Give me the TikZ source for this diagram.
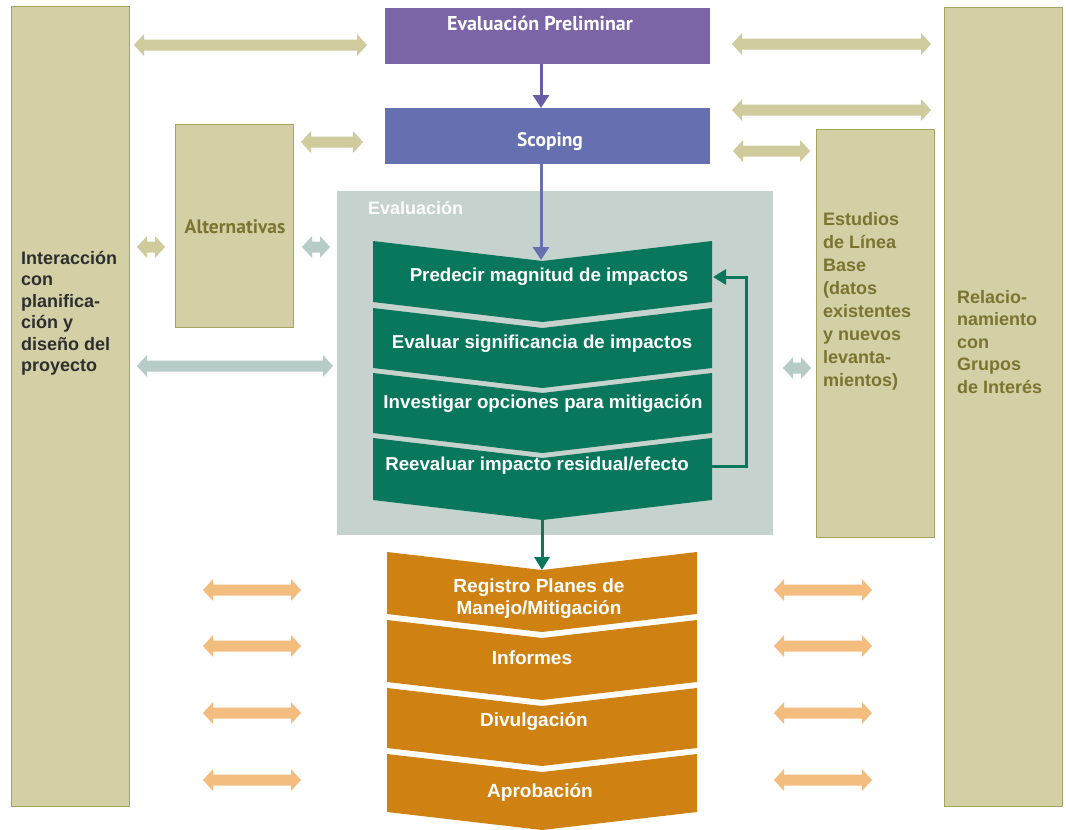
\documentclass[tikz,border=0pt]{standalone}
\usepackage{fontspec}
\setmainfont{Liberation Sans}
\newfontfamily\hum{PT Sans}
\usetikzlibrary{arrows.meta,calc}
\definecolor{tanF}{HTML}{D4D0A6}
\definecolor{tanB}{HTML}{A6A262}
\definecolor{tanA}{HTML}{CFCB9C}
\definecolor{olive}{HTML}{7A7430}
\definecolor{grayF}{HTML}{C6D2CE}
\definecolor{grayA}{HTML}{B7CCC7}
\definecolor{prelimC}{HTML}{7B65A6}
\definecolor{scopC}{HTML}{6670B1}
\definecolor{parC}{HTML}{6A5DA8}
\definecolor{grn}{HTML}{08775C}
\definecolor{orn}{HTML}{CF8211}
\definecolor{ornA}{HTML}{F3BD80}
\definecolor{darkT}{HTML}{2E2E2E}
\newcommand\dblarr[3]{\fill[#1] (#2) -- ($(#2)+(10,-11)$) -- ($(#2)+(10,-5.5)$) -- ($(#3)+(-10,-5.5)$) -- ($(#3)+(-10,-11)$) -- (#3) -- ($(#3)+(-10,11)$) -- ($(#3)+(-10,5.5)$) -- ($(#2)+(10,5.5)$) -- ($(#2)+(10,11)$) -- cycle;}
\begin{document}
\begin{tikzpicture}[x=1pt,y=-1pt,
  tanbox/.style={draw=tanB, line width=1pt, fill=tanF, inner sep=0, outer sep=0},
  flatbox/.style={inner sep=0, outer sep=0},
  coltext/.style={inner sep=0, anchor=north west, align=left, font=\bfseries\fontsize{18}{21.5}\selectfont},
  gtext/.style={inner sep=0, text=white, font=\bfseries\fontsize{18.7}{22}\selectfont},
  otext/.style={inner sep=0, text=white, align=center, font=\bfseries\fontsize{19}{22}\selectfont},
  parr/.style={draw=parC, line width=3pt, -{Triangle[width=16pt,length=13pt]}},
  barr/.style={draw=scopC, line width=3pt, -{Triangle[width=16pt,length=13pt]}},
  garr/.style={draw=grn, line width=3pt, -{Triangle[width=15pt,length=13pt]}}
]
\useasboundingbox (0,0) rectangle (1066,830);
\fill[white] (0,0) rectangle (1066,830);

% main boxes
\node[tanbox, minimum width=118, minimum height=800] (leftcol) at (70,406) {};
\node[tanbox, minimum width=118, minimum height=799] (relac) at (1003,406.5) {};
\node[tanbox, minimum width=118, minimum height=203] (alt) at (234,225.5) {};
\node[tanbox, minimum width=118, minimum height=408] (estudios) at (875,333) {};
\node[flatbox, fill=prelimC, minimum width=325, minimum height=56] (prelim) at (547.5,36) {};
\node[flatbox, fill=scopC, minimum width=325, minimum height=56] (scoping) at (547.5,136) {};
\node[flatbox, fill=grayF, minimum width=436, minimum height=344] (evalbox) at (555,363) {};

% texts of boxes
\node[inner sep=0, text=white, font=\hum\bfseries\fontsize{20}{23}\selectfont] (prelimt) at (540,23) {Evaluación Preliminar};
\node[inner sep=0, text=white, font=\hum\bfseries\fontsize{19.5}{22}\selectfont] (scopingt) at (550,142) {Scoping};
\node[inner sep=0, text=olive, font=\hum\bfseries\fontsize{19.5}{22}\selectfont] (altt) at (235,227) {Alternativas};
\node[inner sep=0, anchor=west, text=white!95!grayF, font=\bfseries\fontsize{18}{21}\selectfont] (evalt) at (368,208) {Evaluación};
\node[coltext, text=darkT] (leftt) at (21,251) {Interacción\\con\\planifica-\\ción y\\diseño del\\proyecto};
\node[coltext, text=olive, font=\bfseries\fontsize{18}{23}\selectfont] (estt) at (823,212) {Estudios\\de Línea\\Base\\(datos\\existentes\\y nuevos\\levanta-\\mientos)};
\node[coltext, text=olive, font=\bfseries\fontsize{18}{22.5}\selectfont] (relt) at (957,290) {Relacio-\\namiento\\con\\Grupos\\de Interés};

% green chevron stack
\foreach \t/\b in {241/302, 308/368, 373/433, 438/500}{
  \fill[grn] (373,\t) -- (542.5,\t+20) -- (712,\t) -- (712,\b) -- (542.5,\b+20) -- (373,\b) -- cycle;
}
\node[gtext] (g1) at (549,277) {Predecir magnitud de impactos};
\node[gtext] (g2) at (542,344) {Evaluar significancia de impactos};
\node[gtext] (g3) at (543,404) {Investigar opciones para mitigación};
\node[gtext] (g4) at (537,466) {Reevaluar impacto residual/efecto};

% orange chevron stack
\foreach \t/\b in {552/614, 620/682, 688/748, 754/812}{
  \fill[orn] (387,\t) -- (542,\t+18) -- (697,\t) -- (697,\b) -- (542,\b+18) -- (387,\b) -- cycle;
}
\node[otext] (o1) at (539,599) {Registro Planes de\\Manejo/Mitigación};
\node[otext] (o2) at (532,658) {Informes};
\node[otext] (o3) at (534,722) {Divulgación};
\node[otext] (o4) at (540,792) {Aprobación};

% connector coordinates
\coordinate (ax) at (541,0);
\coordinate (gtop) at (541,260);
\coordinate (gbot) at (542,520);
\coordinate (otop) at (542,570);
\coordinate (g1e) at (713,277);
\coordinate (g4e) at (712,466);
\coordinate (fb) at (746,0);

\draw[parr] (prelim.south -| ax) -- (scoping.north -| ax);
\draw[barr] (scoping.south -| ax) -- (gtop);
\draw[garr] (gbot) -- (otop);
\draw[garr] (g4e) -- (g4e -| fb) -- (g1e -| fb) -- (g1e);

% double arrow end points
\coordinate (a1l) at (134,45);  \coordinate (a1r) at (367,45);
\coordinate (a2l) at (732,44);  \coordinate (a2r) at (931,44);
\coordinate (a3l) at (732,110); \coordinate (a3r) at (931,110);
\coordinate (a4l) at (301,142); \coordinate (a4r) at (363,142);
\coordinate (a5l) at (733,151); \coordinate (a5r) at (810,151);
\coordinate (a6l) at (137,247); \coordinate (a6r) at (165,247);
\coordinate (a7l) at (302,247); \coordinate (a7r) at (330,247);
\coordinate (a8l) at (137,366); \coordinate (a8r) at (333,366);
\coordinate (a9l) at (783,368); \coordinate (a9r) at (811,368);
\dblarr{tanA}{a1l}{a1r}
\dblarr{tanA}{a2l}{a2r}
\dblarr{tanA}{a3l}{a3r}
\dblarr{tanA}{a4l}{a4r}
\dblarr{tanA}{a5l}{a5r}
\dblarr{tanA}{a6l}{a6r}
\dblarr{grayA}{a7l}{a7r}
\dblarr{grayA}{a8l}{a8r}
\dblarr{grayA}{a9l}{a9r}
\foreach \y [count=\i] in {590,646,713,780}{
  \coordinate (ol\i) at (203,\y); \coordinate (om\i) at (301,\y);
  \coordinate (or\i) at (774,\y); \coordinate (on\i) at (872,\y);
  \dblarr{ornA}{ol\i}{om\i}
  \dblarr{ornA}{or\i}{on\i}
}
\end{tikzpicture}
\end{document}
